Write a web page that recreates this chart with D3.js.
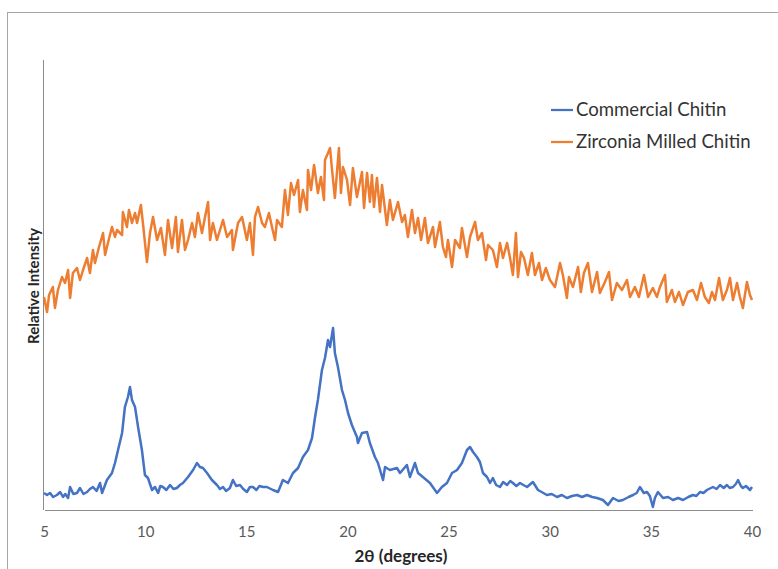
<!DOCTYPE html>
<html>
<head>
<meta charset="utf-8">
<script src="https://cdn.jsdelivr.net/npm/d3@7"></script>
<style>
  body { margin: 0; background: #fff; }
  .tick_txt { font-family: Lato, "Open Sans", sans-serif; font-size: 15px; fill: #595959; }
  .legend_txt { font-family: Lato, "Open Sans", sans-serif; font-size: 18.6px; fill: #333; }
  .axis_title { font-family: Lato, "Open Sans", sans-serif; font-weight: bold; fill: #262626; }
</style>
</head>
<body>
<svg id="chart" width="778" height="569"></svg>
<script>
// 2theta (degrees) and relative intensity
var commercial_x = [5.00,5.15,5.30,5.45,5.64,5.80,5.94,6.05,6.19,6.29,6.45,6.63,6.78,6.95,7.13,7.27,7.42,7.60,7.77,7.87,
   8.00,8.11,8.36,8.51,8.66,8.86,9.00,9.15,9.25,9.35,9.50,9.65,9.84,9.99,10.14,10.34,10.49,10.64,10.75,10.88,
   11.05,11.23,11.40,11.57,11.72,11.87,12.12,12.37,12.56,12.71,12.86,13.06,13.30,13.55,13.70,13.85,14.00,14.19,14.34,14.50,
   14.69,14.85,15.03,15.18,15.33,15.50,15.65,15.83,16.02,16.32,16.57,16.81,17.06,17.31,17.56,17.80,18.05,18.25,18.40,18.54,
   18.74,18.89,19.04,19.14,19.29,19.38,19.53,19.73,19.88,20.03,20.22,20.47,20.52,20.72,20.97,21.11,21.36,21.51,21.76,21.86,
   22.10,22.45,22.60,22.94,23.09,23.34,23.49,23.73,24.08,24.43,24.67,24.92,25.17,25.42,25.66,25.91,26.06,26.21,26.40,26.55,
   26.70,26.90,27.05,27.19,27.35,27.54,27.70,27.89,28.05,28.18,28.35,28.53,28.70,28.88,29.05,29.17,29.42,29.60,29.86,30.10,
   30.36,30.60,30.85,31.10,31.35,31.60,31.84,32.10,32.34,32.63,32.88,33.13,33.40,33.62,33.90,34.12,34.30,34.46,34.65,34.81,
   34.95,35.10,35.20,35.35,35.60,35.85,36.09,36.35,36.59,36.85,37.08,37.25,37.43,37.60,37.77,38.07,38.25,38.42,38.60,38.76,
   38.90,39.06,39.20,39.31,39.45,39.55,39.70,39.90,40.00];
var commercial_y = [17,15,17,13,15,18,13,16,12,23,16,17,22,16,18,21,23,19,27,17,
   24,30,37,47,60,77,103,113,123,110,103,83,60,35,32,20,23,17,24,23,
   20,25,21,22,25,27,33,40,47,43,42,37,30,25,21,23,19,22,30,24,
   25,21,18,23,23,20,24,23,23,20,18,30,27,37,42,53,60,72,93,110,
   140,152,170,163,182,157,143,120,110,97,85,73,67,77,78,67,53,47,30,43,
   40,42,37,45,33,47,37,33,27,17,23,27,37,40,47,60,63,58,53,48,
   37,33,27,32,25,23,28,25,29,27,24,27,25,23,26,28,20,18,15,16,
   13,15,12,14,15,13,15,13,12,10,5,12,9,10,13,15,17,23,17,18,
   14,3,12,18,12,13,10,12,10,13,15,14,18,17,20,23,21,25,22,25,
   22,23,26,30,24,22,24,20,23];

var milled_x = [5.00,5.15,5.25,5.44,5.54,5.69,5.89,6.04,6.19,6.29,6.43,6.63,6.78,6.93,7.13,7.27,7.42,7.52,7.72,7.92,
   8.02,8.16,8.36,8.51,8.61,8.86,8.90,9.10,9.20,9.35,9.50,9.60,9.79,9.89,10.09,10.24,10.39,10.59,10.78,10.98,
   11.13,11.33,11.52,11.62,11.82,11.97,12.12,12.32,12.46,12.61,12.81,12.96,13.11,13.21,13.35,13.55,13.70,13.85,14.05,14.29,
   14.34,14.59,14.79,15.03,15.18,15.33,15.43,15.58,15.78,15.92,16.12,16.27,16.42,16.52,
   16.76,16.91,17.06,17.21,17.36,17.56,17.65,17.80,18.00,18.05,18.20,18.35,18.54,18.69,18.84,18.89,19.04,19.14,19.24,19.38,
   19.58,19.68,19.78,19.98,20.13,20.27,20.47,20.72,20.82,20.97,21.11,21.21,21.31,21.46,21.61,21.71,21.95,22.10,22.25,22.50,
   22.70,22.84,22.99,23.19,23.34,23.49,23.64,23.83,23.98,24.23,24.33,24.57,24.72,24.87,24.97,25.17,25.32,25.56,25.66,25.91,
   26.06,26.31,26.45,26.65,26.85,26.95,27.19,27.39,27.54,27.69,27.89,
   28.03,28.18,28.33,28.43,28.58,28.73,28.92,29.12,29.27,29.47,29.62,29.81,30.01,30.26,30.51,30.65,30.85,30.95,31.15,31.40,
   31.54,31.69,31.89,32.09,32.34,32.48,32.73,32.93,33.08,33.32,33.57,33.82,33.97,34.21,34.41,34.66,34.86,35.10,35.30,35.45,
   35.70,35.79,36.04,36.19,36.39,36.59,36.83,37.08,37.28,37.48,37.67,37.87,38.02,38.17,38.37,38.56,38.76,38.91,39.06,39.26,
   39.40,39.55,39.75,39.90,40.00];
var milled_y = [213,198,215,223,202,220,233,227,240,212,237,242,230,240,252,237,260,247,263,277,
   255,267,283,273,280,275,298,283,300,287,297,287,305,287,248,277,293,270,282,255,
   290,262,293,258,290,260,270,287,273,297,277,293,308,270,287,270,280,290,273,280,
   260,287,293,270,287,255,293,303,287,283,297,283,270,290,
   283,320,295,327,315,330,298,320,300,340,320,345,317,333,310,350,357,362,340,312,
   362,317,343,330,305,342,313,338,302,337,308,335,303,332,298,325,285,310,290,308,
   288,295,273,300,277,292,270,292,267,283,263,288,263,253,270,243,270,262,282,253,
   273,288,270,277,250,265,260,243,267,252,267,
   253,235,277,233,258,252,235,257,235,247,230,242,230,223,247,235,212,233,223,243,
   218,237,247,218,238,217,228,238,210,227,220,230,213,223,213,235,213,222,213,223,
   235,208,220,208,218,205,218,220,210,227,213,207,218,210,232,210,220,232,210,227,
   213,202,228,215,210];

var series_names = ["Commercial Chitin", "Zirconia Milled Chitin"];
var series_colors = ["#4472C4", "#ED7D31"];
var x_ticks = [5, 10, 15, 20, 25, 30, 35, 40];

var svg_canvas = d3.select("#chart");

// chart area frame
svg_canvas.append("rect")
   .attr("x", 7.5).attr("y", 12.5).attr("width", 820).attr("height", 620)
   .attr("fill", "#fff").attr("stroke", "#a6a6a6").attr("stroke-width", 1);

var x_scale = d3.scaleLinear().domain([5, 40]).range([44, 752]);
var y_scale = d3.scaleLinear().domain([0, 450]).range([510, 60]);

function gen_axes() {
   svg_canvas.append("line")
      .attr("x1", 43.5).attr("x2", 43.5).attr("y1", 60).attr("y2", 510)
      .attr("stroke", "#8c8c8c").style("shape-rendering", "crispEdges");

   var x_axis = svg_canvas.append("g").attr("transform", "translate(0,510)")
      .call(d3.axisBottom(x_scale).tickValues(x_ticks).tickSize(0).tickPadding(16));
   x_axis.select(".domain").attr("stroke", "#8c8c8c").style("shape-rendering", "crispEdges");
   x_axis.selectAll("text").attr("class", "tick_txt").attr("fill", null);
   x_axis.attr("font-family", null).attr("font-size", null);

   svg_canvas.append("text").attr("class", "axis_title")
      .attr("x", 401).attr("y", 562).attr("text-anchor", "middle")
      .style("font-size", "17px").text("2θ (degrees)");

   svg_canvas.append("text").attr("class", "axis_title")
      .attr("transform", "translate(39,286) rotate(-90)").attr("text-anchor", "middle")
      .style("font-size", "15px").text("Relative Intensity");
}

function gen_lines() {
   var line_gen = d3.line()
      .x(function(d) { return x_scale(d[0]); })
      .y(function(d) { return y_scale(d[1]); });
   var all_series = [d3.zip(commercial_x, commercial_y), d3.zip(milled_x, milled_y)];
   svg_canvas.selectAll("path.xrd_line").data(all_series).enter().append("path")
      .attr("class", "xrd_line")
      .attr("d", line_gen)
      .attr("fill", "none")
      .attr("stroke", function(d, i) { return series_colors[i]; })
      .attr("stroke-width", 2.5)
      .attr("stroke-linejoin", "round");
}

function gen_legend() {
   var legend = svg_canvas.append("g").attr("id", "legend").attr("transform", "translate(551,110)");
   legend.selectAll("line").data(series_names).enter().append("line")
      .attr("x1", 0).attr("x2", 22)
      .attr("y1", function(d, i) { return i * 32; }).attr("y2", function(d, i) { return i * 32; })
      .attr("stroke", function(d, i) { return series_colors[i]; }).attr("stroke-width", 2.25);
   legend.selectAll("text").data(series_names).enter().append("text")
      .attr("class", "legend_txt")
      .attr("x", 25).attr("y", function(d, i) { return i * 32 + 6; })
      .text(function(d) { return d; });
}

gen_axes();
gen_lines();
gen_legend();
</script>
</body>
</html>
